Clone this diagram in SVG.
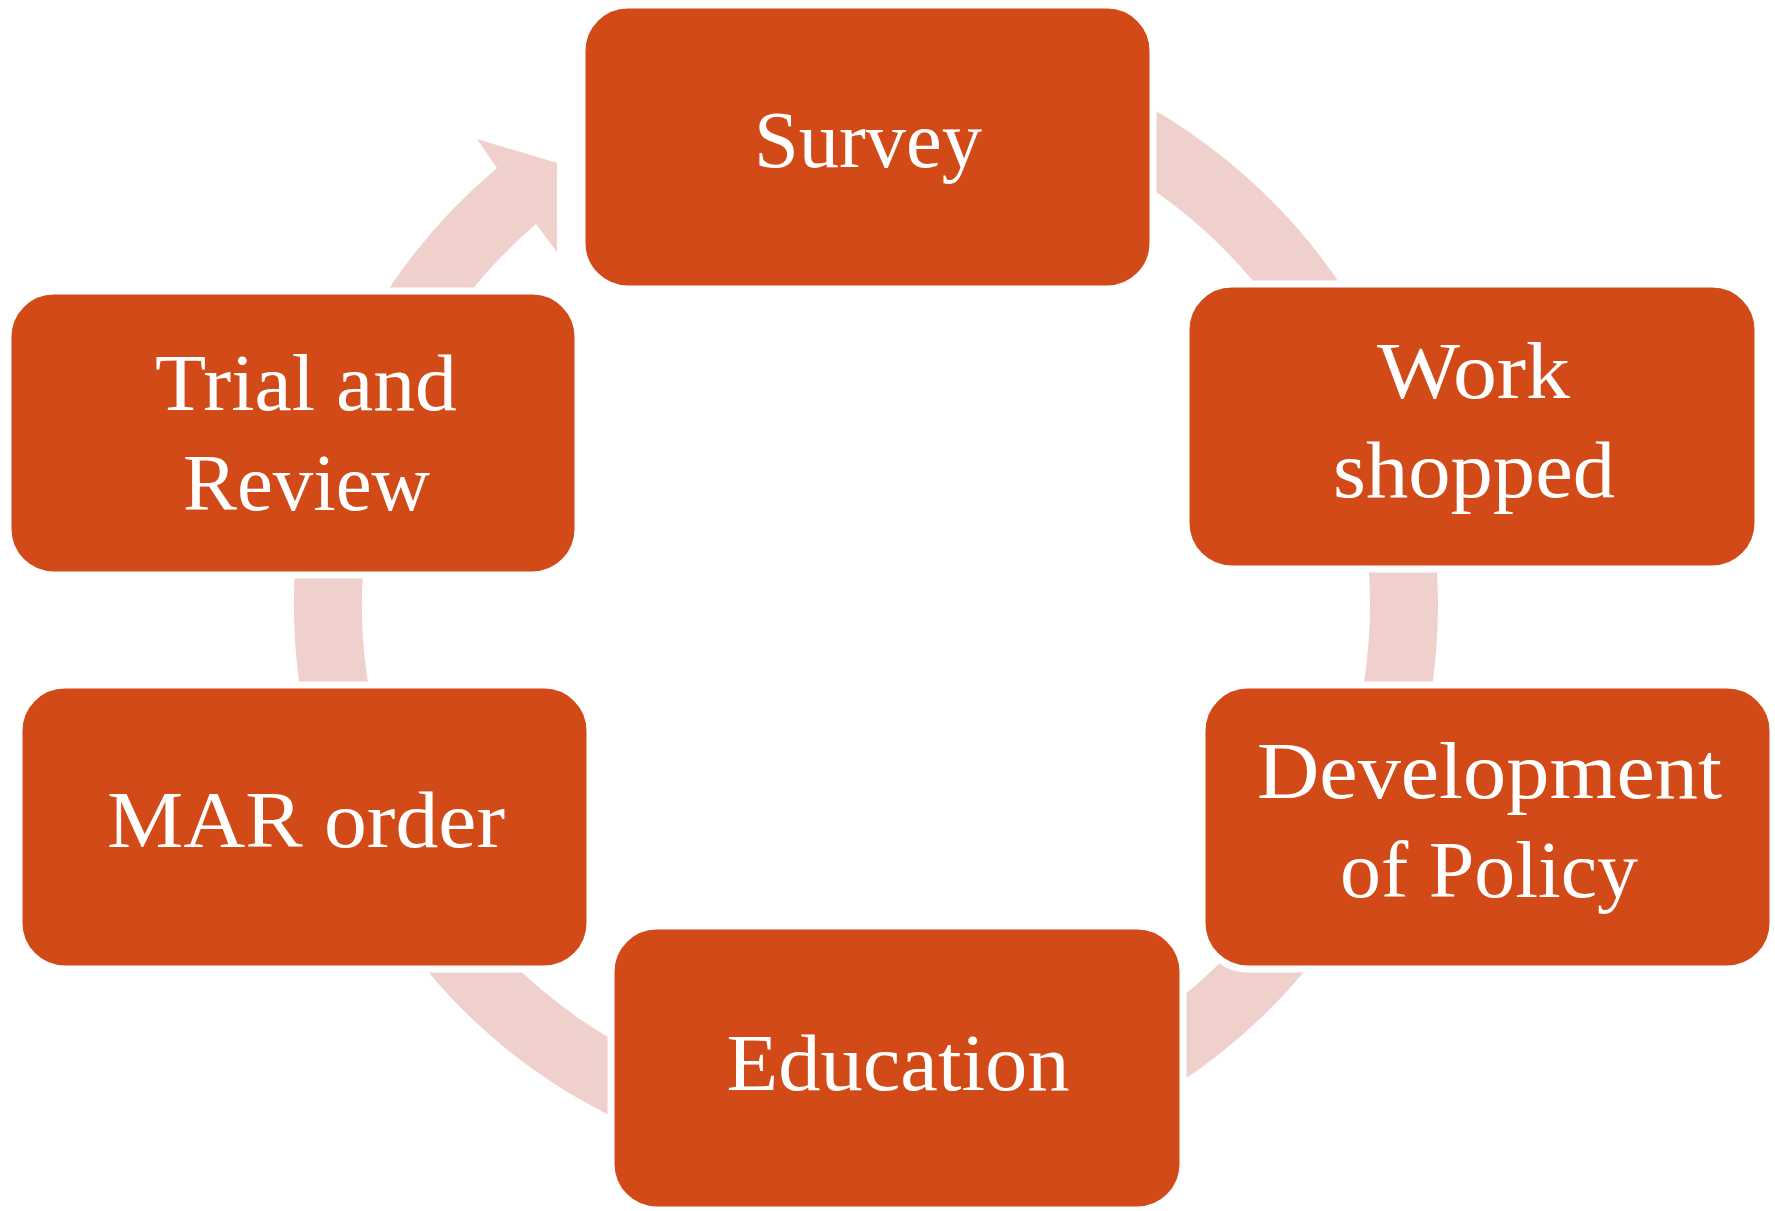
<svg xmlns="http://www.w3.org/2000/svg" width="1775" height="1211" viewBox="0 0 1775 1211">
<style>
.box{fill:#D24A18;stroke:#FFFFFF;stroke-width:7}
.lbl{font-family:"Liberation Serif","Times New Roman",serif;font-size:80px;fill:#FFFFFF;text-anchor:middle}
.ring{fill:none;stroke:#EFD0CD;stroke-width:68;stroke-linecap:butt}
.head{fill:#EFD0CD;stroke:none}
</style>
<rect x="0" y="0" width="1775" height="1211" fill="#FFFFFF"/>
<g id="connectors">
<path class="ring" d="M 1000 83 A 538 538 0 1 1 403 330"/>
<path class="head" d="M 375.3 310 A 572 572 0 0 1 497 168 L 477 139 L 557 163 L 557 252 L 536 224 A 504 504 0 0 0 456.6 310 Z"/>
</g>
<g id="node-survey">
<rect class="box" x="582" y="5" width="571" height="284" rx="46" ry="46"/>
<text class="lbl" x="868" y="167" textLength="228" lengthAdjust="spacingAndGlyphs">Survey</text>
</g>
<g id="node-workshopped">
<rect class="box" x="1186" y="284" width="572" height="285" rx="46" ry="46"/>
<text class="lbl" x="1473.5" y="398" textLength="193" lengthAdjust="spacingAndGlyphs">Work</text>
<text class="lbl" x="1474" y="497" textLength="282" lengthAdjust="spacingAndGlyphs">shopped</text>
</g>
<g id="node-development">
<rect class="box" x="1202" y="685" width="571" height="284" rx="46" ry="46"/>
<text class="lbl" x="1489.5" y="798" textLength="465" lengthAdjust="spacingAndGlyphs">Development</text>
<text class="lbl" x="1489" y="897" textLength="298" lengthAdjust="spacingAndGlyphs">of Policy</text>
</g>
<g id="node-education">
<rect class="box" x="611" y="926" width="572" height="284" rx="46" ry="46"/>
<text class="lbl" x="898" y="1090" textLength="343" lengthAdjust="spacingAndGlyphs">Education</text>
</g>
<g id="node-mar">
<rect class="box" x="19" y="685" width="571" height="284" rx="46" ry="46"/>
<text class="lbl" x="306" y="847" textLength="398" lengthAdjust="spacingAndGlyphs">MAR order</text>
</g>
<g id="node-trial">
<rect class="box" x="8" y="291" width="570" height="284" rx="46" ry="46"/>
<text class="lbl" x="306" y="410" textLength="302" lengthAdjust="spacingAndGlyphs">Trial and</text>
<text class="lbl" x="306.5" y="510" textLength="247" lengthAdjust="spacingAndGlyphs">Review</text>
</g>
</svg>
